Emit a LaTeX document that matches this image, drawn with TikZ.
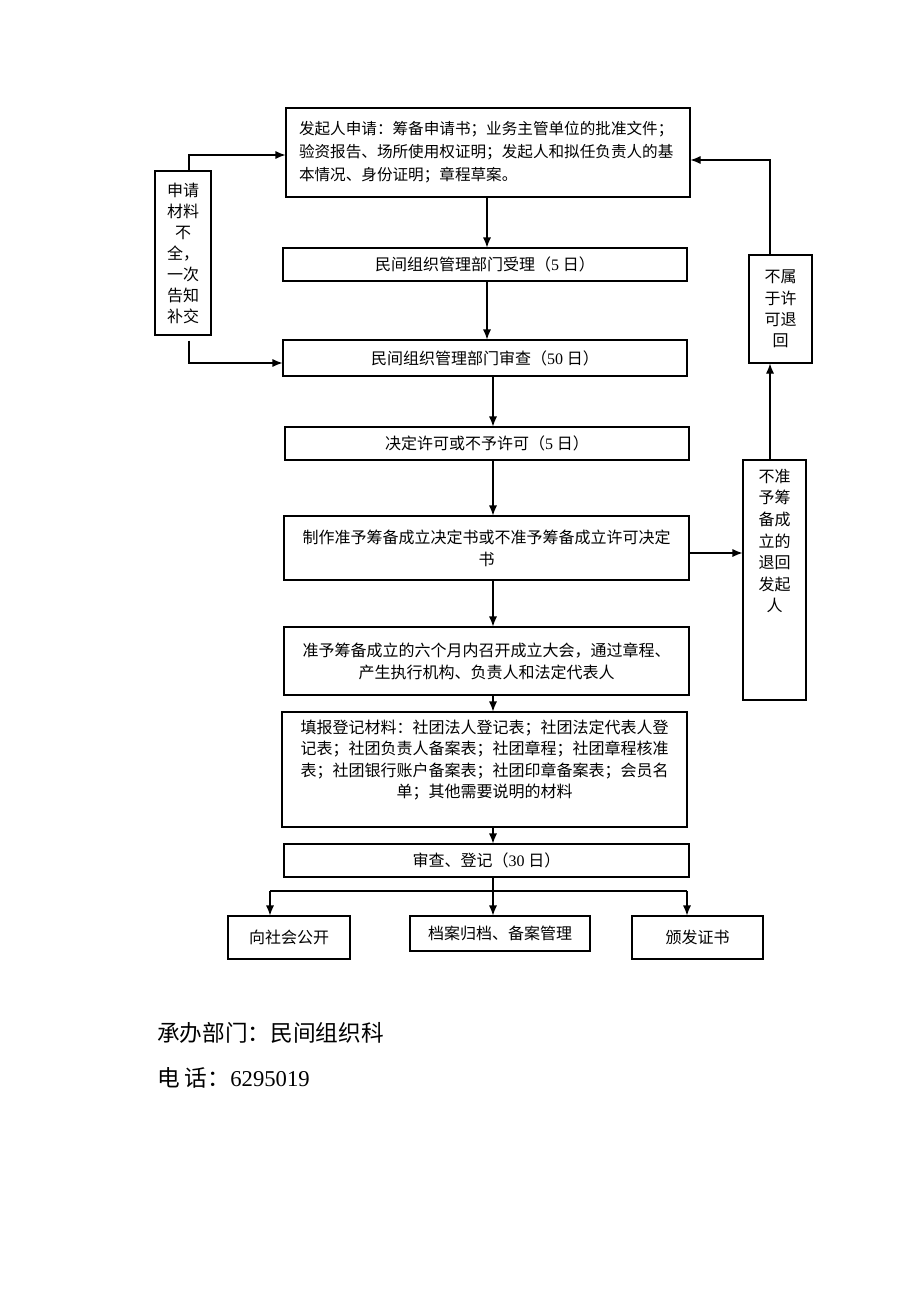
\documentclass[tikz,border=0pt]{standalone}
\usepackage{fontspec}
\setmainfont{Liberation Serif}
\newfontfamily\cjk{Noto Sans CJK SC}
\usetikzlibrary{arrows.meta,calc}
\newcommand\dg[1]{{\rmfamily #1}}
\begin{document}
\begin{tikzpicture}[x=0.75pt,y=-0.75pt,
  bx/.style={draw=black, line width=0.8pt, inner sep=0pt, align=center,
    font=\cjk\fontsize{12}{16.5}\selectfont},
  sz/.style 2 args={minimum width=#1*0.75pt, minimum height=#2*0.75pt},
  txt/.style={inner sep=0pt, align=center, font=\cjk\fontsize{12}{16.2}\selectfont},
  arr/.style={line width=0.8pt, -{Latex[length=7.5pt,width=6pt]}},
  ln/.style={line width=0.8pt}]
\useasboundingbox (0,0) rectangle (920,1302);

% main column
\node[bx, sz={404}{89}, text width=378*0.75pt, align=left,
  font=\cjk\fontsize{11.7}{17.2}\selectfont] (b1) at (488,152.5)
  {发起人申请：筹备申请书；业务主管单位的批准文件；\\验资报告、场所使用权证明；发起人和拟任负责人的基\\本情况、身份证明；章程草案。};
\node[bx, sz={404}{33}] (b2) at (485,264.5) {民间组织管理部门受理（\dg{5} 日）};
\node[bx, sz={404}{36}] (b3) at (485,358) {民间组织管理部门审查（\dg{50} 日）};
\node[bx, sz={404}{33}] (b4) at (487,443.5) {决定许可或不予许可（\dg{5} 日）};
\node[bx, sz={405}{64}] (b5) at (486.5,548) {制作准予筹备成立决定书或不准予筹备成立许可决定\\书};
\node[bx, sz={405}{68}] (b6) at (486.5,661) {准予筹备成立的六个月内召开成立大会，通过章程、\\产生执行机构、负责人和法定代表人};
\node[bx, sz={405}{115}] (b7) at (484.5,769.5) {};
\node[txt] (t7) at (484.5,760) {填报登记材料：社团法人登记表；社团法定代表人登\\记表；社团负责人备案表；社团章程；社团章程核准\\表；社团银行账户备案表；社团印章备案表；会员名\\单；其他需要说明的材料};
\node[bx, sz={405}{33}] (b8) at (486.5,860.5) {审查、登记（\dg{30} 日）};

% outputs
\node[bx, sz={122}{43}] (o1) at (289,937.5) {向社会公开};
\node[bx, sz={180}{35}] (o2) at (500,933.5) {档案归档、备案管理};
\node[bx, sz={131}{43}] (o3) at (697.5,937.5) {颁发证书};

% side boxes
\node[bx, sz={56}{164}, font=\cjk\fontsize{12}{15.75}\selectfont] (lb) at (183,253)
  {申请\\材料\\不\\全，\\一次\\告知\\补交};
\node[bx, sz={63}{108}, font=\cjk\fontsize{12}{16}\selectfont] (r1) at (780.5,309)
  {不属\\于许\\可退\\回};
\node[bx, sz={63}{240}] (r2) at (774.5,580) {};
\node[txt, font=\cjk\fontsize{12}{16.2}\selectfont] (t2) at (774.5,541)
  {不准\\予筹\\备成\\立的\\退回\\发起\\人};

% footer
\node[anchor=west, inner sep=0pt, font=\cjk\fontsize{17}{20}\selectfont] (f1) at (157,1033) {承办部门：民间组织科};
\node[anchor=west, inner sep=0pt, font=\cjk\fontsize{17}{20}\selectfont] (f2) at (157,1078) {电 话：\dg{6295019}};

% connectors
\coordinate (cx) at (493,0);
\coordinate (cy) at (487,0);
\draw[arr] (b1.south -| cy) -- (b2.north -| cy);
\draw[arr] (b2.south -| cy) -- (b3.north -| cy);
\draw[arr] (b3.south -| cx) -- (b4.north -| cx);
\draw[arr] (b4.south -| cx) -- (b5.north -| cx);
\draw[arr] (b5.south -| cx) -- (b6.north -| cx);
\draw[arr] (b6.south -| cx) -- (b7.north -| cx);
\draw[arr] (b7.south -| cx) -- (b8.north -| cx);

\coordinate (busL) at (270,891);
\coordinate (busM) at (493,891);
\coordinate (busR) at (687,891);
\draw[ln] (b8.south -| cx) -- (busM);
\draw[ln] (busL) -- (busR);
\draw[arr] (busL) -- (busL |- o1.north);
\draw[arr] (busM) -- (busM |- o2.north);
\draw[arr] (busR) -- (busR |- o3.north);

\coordinate (lt) at ($(lb.north)+(6,0)$);
\coordinate (lbt) at ($(b1.west)+(0,2.5)$);
\coordinate (ls) at ($(lb.south)+(6,5)$);
\coordinate (l3) at ($(b3.west)+(0,5)$);
\draw[arr] (lt) |- (lbt);
\draw[arr] (ls) |- (l3);

\coordinate (p5) at ($(b5.east)+(0,5)$);
\draw[arr] (p5) -- (p5 -| r2.west);
\coordinate (q2) at ($(r2.north)+(-4.5,0)$);
\coordinate (q1) at ($(r1.south)+(-10.5,0)$);
\coordinate (q1n) at ($(r1.north)+(-10.5,0)$);
\coordinate (e1) at ($(b1.east)+(0,7.5)$);
\draw[arr] (q2) -- (q1);
\draw[arr] (q1n) |- (e1);
\end{tikzpicture}
\end{document}
